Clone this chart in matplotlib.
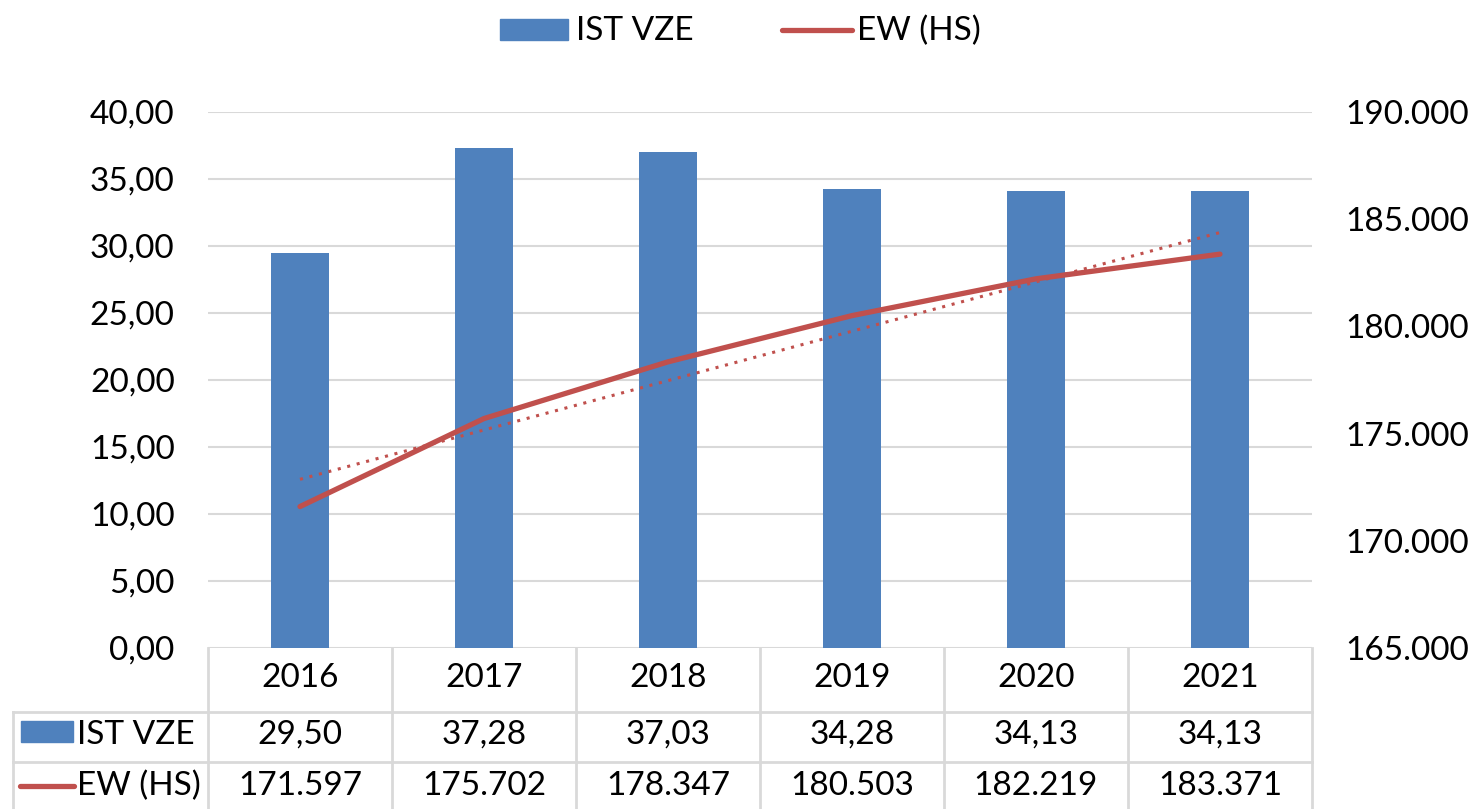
import matplotlib
matplotlib.use("Agg")
import matplotlib.pyplot as plt
import numpy as np
from matplotlib.patches import Rectangle
from matplotlib.lines import Line2D

plt.rcParams['font.family'] = ['Lato', 'DejaVu Sans']

years = ["2016", "2017", "2018", "2019", "2020", "2021"]
ist_vze = [29.50, 37.28, 37.03, 34.28, 34.13, 34.13]
ew_hs = [171597, 175702, 178347, 180503, 182219, 183371]
left_ticks = [0, 5, 10, 15, 20, 25, 30, 35, 40]
right_ticks = [165000, 170000, 175000, 180000, 185000, 190000]

BAR = "#4F81BD"
RED = "#C0504D"
GRID = "#D9D9D9"
FS = 24

W, H = 1475, 809
fig = plt.figure(figsize=(W / 100, H / 100), dpi=100)

def fx(px):
    return px / W

def fy(py):
    return 1 - py / H

L, R, T, B = 208, 1312, 112, 648
ax = fig.add_axes([fx(L), fy(B), fx(R) - fx(L), fy(T) - fy(B)])
x = np.arange(len(years))
ax.bar(x, ist_vze, width=0.315, color=BAR, zorder=2)
ax.set_xlim(-0.5, len(years) - 0.5)
ax.set_ylim(0, 40)
ax.set_yticks(left_ticks)
ax.set_yticklabels([f"{v:.2f}".replace(".", ",") for v in left_ticks], fontsize=FS)
ax.set_xticks([])
for s in ax.spines.values():
    s.set_visible(False)
ax.tick_params(axis='y', length=0, pad=24)
for v in left_ticks:
    ax.axhline(v, color=GRID, lw=1.5, zorder=1)

ax2 = ax.twinx()
ax2.plot(x, ew_hs, color=RED, lw=3.8, solid_capstyle='round', zorder=3)
coef = np.polyfit(x, ew_hs, 1)
ax2.plot(x, np.polyval(coef, x), color=RED, lw=2.2, ls=(0, (1, 2.2)), zorder=3)
ax2.set_ylim(165000, 190000)
ax2.set_yticks(right_ticks)
ax2.set_yticklabels([f"{v:,}".replace(",", ".") for v in right_ticks], fontsize=FS)
ax2.tick_params(axis='y', length=0, pad=24)
for s in ax2.spines.values():
    s.set_visible(False)

# data table
tc = GRID
cell_w = (R - L) / len(years)
for i in range(len(years) + 1):
    xx = L + i * cell_w
    fig.add_artist(Line2D([fx(xx), fx(xx)], [fy(648), fy(809)], color=tc, lw=2))
fig.add_artist(Line2D([fx(13), fx(13)], [fy(712), fy(809)], color=tc, lw=2))
fig.add_artist(Line2D([fx(13), fx(R)], [fy(712), fy(712)], color=tc, lw=2))
fig.add_artist(Line2D([fx(13), fx(R)], [fy(762), fy(762)], color=tc, lw=2))

for i, yr in enumerate(years):
    cx = L + (i + 0.5) * cell_w
    fig.text(fx(cx), fy(678), yr, ha='center', va='center', fontsize=FS)
    fig.text(fx(cx), fy(735), f"{ist_vze[i]:.2f}".replace(".", ","), ha='center', va='center', fontsize=FS)
    fig.text(fx(cx), fy(786), f"{ew_hs[i]:,}".replace(",", "."), ha='center', va='center', fontsize=FS)

fig.add_artist(Rectangle((fx(21), fy(742)), fx(73) - fx(21), fy(721) - fy(742), color=BAR))
fig.text(fx(77), fy(735), "IST VZE", ha='left', va='center', fontsize=FS)
fig.add_artist(Line2D([fx(20), fx(74)], [fy(786), fy(786)], color=RED, lw=3.8, solid_capstyle='round'))
fig.text(fx(77), fy(786), "EW (HS)", ha='left', va='center', fontsize=FS)

# top legend
fig.add_artist(Rectangle((fx(500), fy(40)), fx(568) - fx(500), fy(19) - fy(40), color=BAR))
fig.text(fx(576), fy(31), "IST VZE", ha='left', va='center', fontsize=FS)
fig.add_artist(Line2D([fx(782), fx(852)], [fy(30), fy(30)], color=RED, lw=3.8, solid_capstyle='round'))
fig.text(fx(857), fy(31), "EW (HS)", ha='left', va='center', fontsize=FS)

fig.savefig("out.png", dpi=100)
